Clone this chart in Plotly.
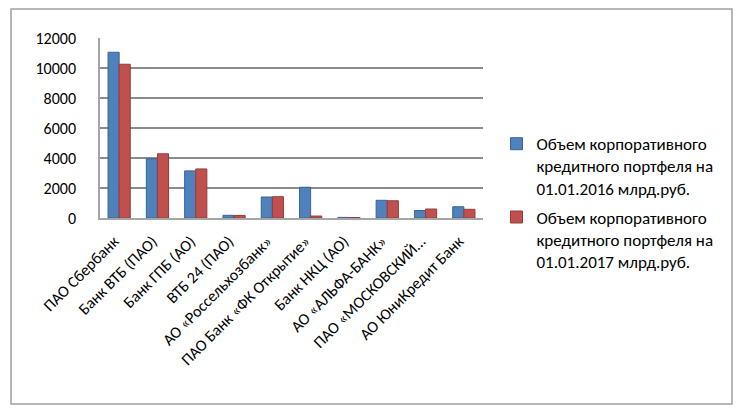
import plotly.graph_objects as go

categories = ["ПАО Сбербанк", "Банк ВТБ (ПАО)", "Банк ГПБ (АО)", "ВТБ 24 (ПАО)",
              "АО «Россельхозбанк»", "ПАО Банк «ФК Открытие»", "Банк НКЦ (АО)",
              "АО «АЛЬФА-БАНК»", "ПАО «МОСКОВСКИЙ…", "АО ЮниКредит Банк"]
values_2016 = [11050, 3950, 3140, 180, 1400, 2050, 40, 1180, 500, 750]
values_2017 = [10250, 4280, 3270, 170, 1420, 130, 30, 1150, 600, 580]
name_2016 = "Объем корпоративного<br>кредитного портфеля на<br>01.01.2016 млрд.руб."
name_2017 = "Объем корпоративного<br>кредитного портфеля на<br>01.01.2017 млрд.руб."
y_ticks = [0, 2000, 4000, 6000, 8000, 10000, 12000]
y_tick_labels = ["0", "2000", "4000", "6000", "8000", "10000", "12000"]

font_family = "Carlito, Lato, 'Liberation Sans', sans-serif"

fig = go.Figure()
fig.add_trace(go.Bar(x=categories, y=values_2016, name=name_2016, legendgroup="a",
                     marker=dict(color="#4F81BD", line=dict(color="#3A6496", width=1))))
fig.add_trace(go.Bar(x=categories, y=values_2017, name=name_2017, legendgroup="b",
                     marker=dict(color="#C0504D", line=dict(color="#943C3A", width=1))))

fig.update_layout(
    width=741, height=415,
    margin=dict(l=100, r=258, t=38, b=197, autoexpand=False),
    paper_bgcolor="white", plot_bgcolor="white",
    barmode="group", bargap=0.42, bargroupgap=0.0,
    font=dict(family=font_family, size=14, color="#000000"),
    legend=dict(xref="container", yref="container", x=0.67, y=0.696,
                xanchor="left", yanchor="top", valign="top",
                font=dict(size=17, color="#000000"),
                tracegroupgap=4, itemwidth=30, bgcolor="rgba(0,0,0,0)"),
    shapes=[dict(type="rect", xref="paper", yref="paper",
                 x0=-89/383, x1=(732-100)/383, y0=-(404-218)/180, y1=1 + (38-9)/180,
                 line=dict(color="#A0A0A0", width=1.5), fillcolor="rgba(0,0,0,0)",
                 layer="above")],
)
fig.update_xaxes(tickangle=-45, showgrid=False, showline=True, linecolor="#A6A6A6",
                 linewidth=1.5, ticks="", tickfont=dict(size=16), automargin=False,
                 ticklabelshift=-5, ticklabelstandoff=6)
fig.update_yaxes(range=[0, 12000], tickvals=y_ticks, ticktext=y_tick_labels, showgrid=True,
                 gridcolor="#8C8C8C", gridwidth=1.5, showline=True, linecolor="#A6A6A6",
                 linewidth=1.5, zeroline=False, ticks="", tickfont=dict(size=16),
                 ticklabelstandoff=19, automargin=False)

fig.write_html("out.html", config={"displayModeBar": False},
               post_script="document.body.style.margin='0';")
